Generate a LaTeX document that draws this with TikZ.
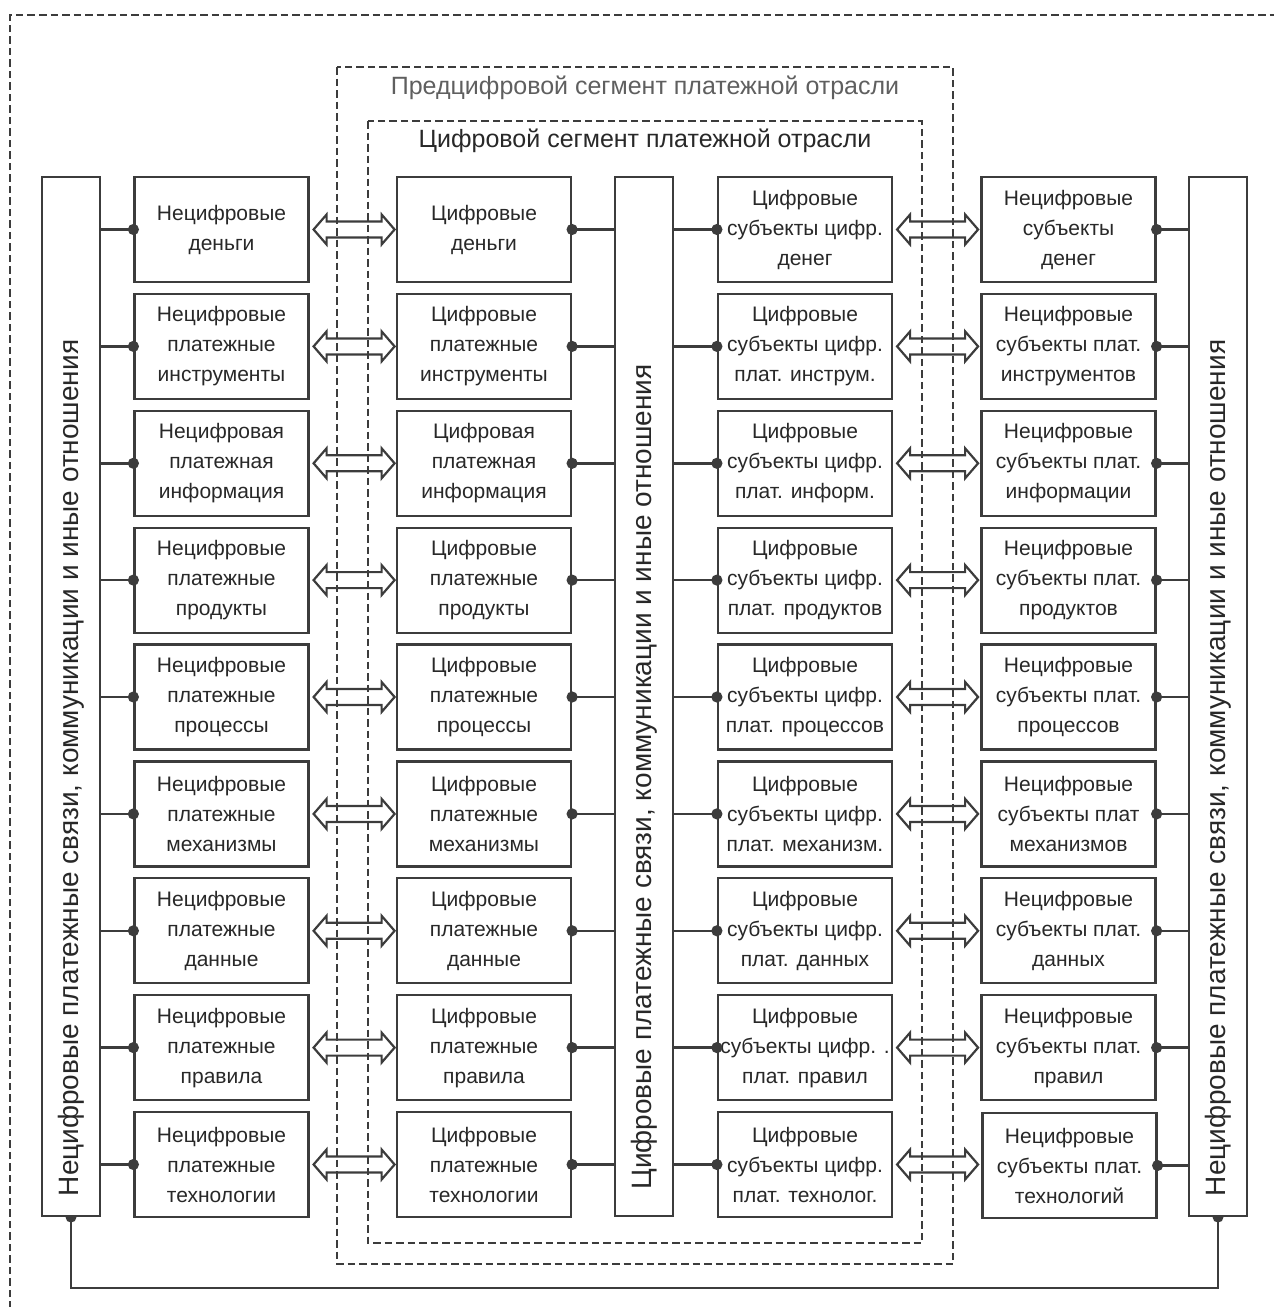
\documentclass[tikz,border=0pt]{standalone}
\usepackage{fontspec}
\setmainfont{Liberation Sans}
\usetikzlibrary{arrows.meta}
\definecolor{lncol}{RGB}{60,60,60}
\definecolor{txcol}{RGB}{40,40,40}
\definecolor{ttcol}{RGB}{95,95,95}
\tikzset{pics/dblarr/.style={code={%
  \draw[dbl] (0,0) -- (13,-15) -- (13,-8) -- (68,-8) -- (68,-15) -- (81,0)
    -- (68,15) -- (68,8) -- (13,8) -- (13,15) -- cycle;}}}
\begin{document}
\begin{tikzpicture}[x=0.5pt,y=0.5pt,yscale=-1,xscale=1,
  blk/.style={draw=lncol,line width=1.1pt,fill=white,minimum width=87pt,minimum height=52.5pt,
    inner sep=0pt,align=center,text=txcol,font=\fontsize{10.5}{15}\selectfont},
  tall/.style={draw=lncol,line width=1.1pt,fill=white,minimum width=29pt,
    minimum height=519.5pt,inner sep=0pt},
  vtext/.style={rotate=90,inner sep=0pt,text=txcol,font=\fontsize{14}{16}\selectfont},
  seg/.style={draw=lncol,line width=1.1pt,dash pattern=on 3.75pt off 2pt},
  link/.style={draw=lncol,line width=1.3pt,-{Circle[length=5.5pt]},shorten >=-2.75pt},
  dbl/.style={draw=lncol,line width=1.1pt,line join=miter},
  conn/.style={draw=lncol,line width=1.3pt}]
\useasboundingbox (0,0) rectangle (1274,1307);

% segments
\draw[seg] (10,1320) -- (10,15) -- (1290,15);
\draw[seg] (337,67) rectangle (953,1264);
\draw[seg] (368,121) rectangle (922,1243);
\node[text=ttcol,font=\fontsize{12.5}{15}\selectfont] (pre) at (645,88) {Предцифровой сегмент платежной отрасли};
\node[text=txcol,font=\fontsize{12.5}{15}\selectfont] (dig) at (645,141) {Цифровой сегмент платежной отрасли};

% tall boxes
\node[tall] (L) at (71,696.5) {};
\node[tall] (M) at (644,696.5) {};
\node[tall] (R) at (1218,696.5) {};
\node[vtext] (Lt) at (71,768) {Нецифровые платежные связи, коммуникации и иные отношения};
\node[vtext] (Mt) at (644,777) {Цифровые платежные связи, коммуникации и иные отношения};
\node[vtext] (Rt) at (1218,768) {Нецифровые платежные связи, коммуникации и иные отношения};

% row 1
\node[blk] (n1) at (221.5,229.5) {Нецифровые\\деньги};
\node[blk] (d1) at (484,229.5) {Цифровые\\деньги};
\node[blk] (s1) at (805,229.5) {Цифровые\\субъекты цифр.\\денег};
\node[blk] (m1) at (1068.5,229.5) {Нецифровые\\субъекты\\денег};
% row 2
\node[blk] (n2) at (221.5,346.4) {Нецифровые\\платежные\\инструменты};
\node[blk] (d2) at (484,346.4) {Цифровые\\платежные\\инструменты};
\node[blk] (s2) at (805,346.4) {Цифровые\\субъекты цифр.\\плат. инструм.};
\node[blk] (m2) at (1068.5,346.4) {Нецифровые\\субъекты плат.\\инструментов};
% row 3
\node[blk] (n3) at (221.5,463.3) {Нецифровая\\платежная\\информация};
\node[blk] (d3) at (484,463.3) {Цифровая\\платежная\\информация};
\node[blk] (s3) at (805,463.3) {Цифровые\\субъекты цифр.\\плат. информ.};
\node[blk] (m3) at (1068.5,463.3) {Нецифровые\\субъекты плат.\\информации};
% row 4
\node[blk] (n4) at (221.5,580.1) {Нецифровые\\платежные\\продукты};
\node[blk] (d4) at (484,580.1) {Цифровые\\платежные\\продукты};
\node[blk] (s4) at (805,580.1) {Цифровые\\субъекты цифр.\\плат. продуктов};
\node[blk] (m4) at (1068.5,580.1) {Нецифровые\\субъекты плат.\\продуктов};
% row 5
\node[blk] (n5) at (221.5,697) {Нецифровые\\платежные\\процессы};
\node[blk] (d5) at (484,697) {Цифровые\\платежные\\процессы};
\node[blk] (s5) at (805,697) {Цифровые\\субъекты цифр.\\плат. процессов};
\node[blk] (m5) at (1068.5,697) {Нецифровые\\субъекты плат.\\процессов};
% row 6
\node[blk] (n6) at (221.5,813.9) {Нецифровые\\платежные\\механизмы};
\node[blk] (d6) at (484,813.9) {Цифровые\\платежные\\механизмы};
\node[blk] (s6) at (805,813.9) {Цифровые\\субъекты цифр.\\плат. механизм.};
\node[blk] (m6) at (1068.5,813.9) {Нецифровые\\субъекты плат\\механизмов};
% row 7
\node[blk] (n7) at (221.5,930.8) {Нецифровые\\платежные\\данные};
\node[blk] (d7) at (484,930.8) {Цифровые\\платежные\\данные};
\node[blk] (s7) at (805,930.8) {Цифровые\\субъекты цифр.\\плат. данных};
\node[blk] (m7) at (1068.5,930.8) {Нецифровые\\субъекты плат.\\данных};
% row 8
\node[blk] (n8) at (221.5,1047.6) {Нецифровые\\платежные\\правила};
\node[blk] (d8) at (484,1047.6) {Цифровые\\платежные\\правила};
\node[blk] (s8) at (805,1047.6) {Цифровые\\субъекты цифр. .\\плат. правил};
\node[blk] (m8) at (1068.5,1047.6) {Нецифровые\\субъекты плат.\\правил};
% row 9
\node[blk] (n9) at (221.5,1164.5) {Нецифровые\\платежные\\технологии};
\node[blk] (d9) at (484,1164.5) {Цифровые\\платежные\\технологии};
\node[blk] (s9) at (805,1164.5) {Цифровые\\субъекты цифр.\\плат. технолог.};
\node[blk] (m9) at (1069.5,1165.5) {Нецифровые\\субъекты плат.\\технологий};

% links to the tall boxes
\draw[link] (L.east |- n1) -- (n1.west);  \draw[link] (M.west |- d1) -- (d1.east);
\draw[link] (M.east |- s1) -- (s1.west);  \draw[link] (R.west |- m1) -- (m1.east);
\draw[link] (L.east |- n2) -- (n2.west);  \draw[link] (M.west |- d2) -- (d2.east);
\draw[link] (M.east |- s2) -- (s2.west);  \draw[link] (R.west |- m2) -- (m2.east);
\draw[link] (L.east |- n3) -- (n3.west);  \draw[link] (M.west |- d3) -- (d3.east);
\draw[link] (M.east |- s3) -- (s3.west);  \draw[link] (R.west |- m3) -- (m3.east);
\draw[link] (L.east |- n4) -- (n4.west);  \draw[link] (M.west |- d4) -- (d4.east);
\draw[link] (M.east |- s4) -- (s4.west);  \draw[link] (R.west |- m4) -- (m4.east);
\draw[link] (L.east |- n5) -- (n5.west);  \draw[link] (M.west |- d5) -- (d5.east);
\draw[link] (M.east |- s5) -- (s5.west);  \draw[link] (R.west |- m5) -- (m5.east);
\draw[link] (L.east |- n6) -- (n6.west);  \draw[link] (M.west |- d6) -- (d6.east);
\draw[link] (M.east |- s6) -- (s6.west);  \draw[link] (R.west |- m6) -- (m6.east);
\draw[link] (L.east |- n7) -- (n7.west);  \draw[link] (M.west |- d7) -- (d7.east);
\draw[link] (M.east |- s7) -- (s7.west);  \draw[link] (R.west |- m7) -- (m7.east);
\draw[link] (L.east |- n8) -- (n8.west);  \draw[link] (M.west |- d8) -- (d8.east);
\draw[link] (M.east |- s8) -- (s8.west);  \draw[link] (R.west |- m8) -- (m8.east);
\draw[link] (L.east |- n9) -- (n9.west);  \draw[link] (M.west |- d9) -- (d9.east);
\draw[link] (M.east |- s9) -- (s9.west);  \draw[link] (R.west |- m9) -- (m9.east);

% double arrows
\path (n1.east) ++(4,0) pic {dblarr};  \path (s1.east) ++(4,0) pic {dblarr};
\path (n2.east) ++(4,0) pic {dblarr};  \path (s2.east) ++(4,0) pic {dblarr};
\path (n3.east) ++(4,0) pic {dblarr};  \path (s3.east) ++(4,0) pic {dblarr};
\path (n4.east) ++(4,0) pic {dblarr};  \path (s4.east) ++(4,0) pic {dblarr};
\path (n5.east) ++(4,0) pic {dblarr};  \path (s5.east) ++(4,0) pic {dblarr};
\path (n6.east) ++(4,0) pic {dblarr};  \path (s6.east) ++(4,0) pic {dblarr};
\path (n7.east) ++(4,0) pic {dblarr};  \path (s7.east) ++(4,0) pic {dblarr};
\path (n8.east) ++(4,0) pic {dblarr};  \path (s8.east) ++(4,0) pic {dblarr};
\path (n9.east) ++(4,0) pic {dblarr};  \path (s9.east) ++(4,0) pic {dblarr};

% bottom loop
\draw[conn] (L.south) -- ++(0,71) -| (R.south);
\fill[lncol] (L.south) ++(-5.5,0) arc (180:0:5.5) -- cycle;
\fill[lncol] (R.south) ++(-5.5,0) arc (180:0:5.5) -- cycle;

\end{tikzpicture}
\end{document}
